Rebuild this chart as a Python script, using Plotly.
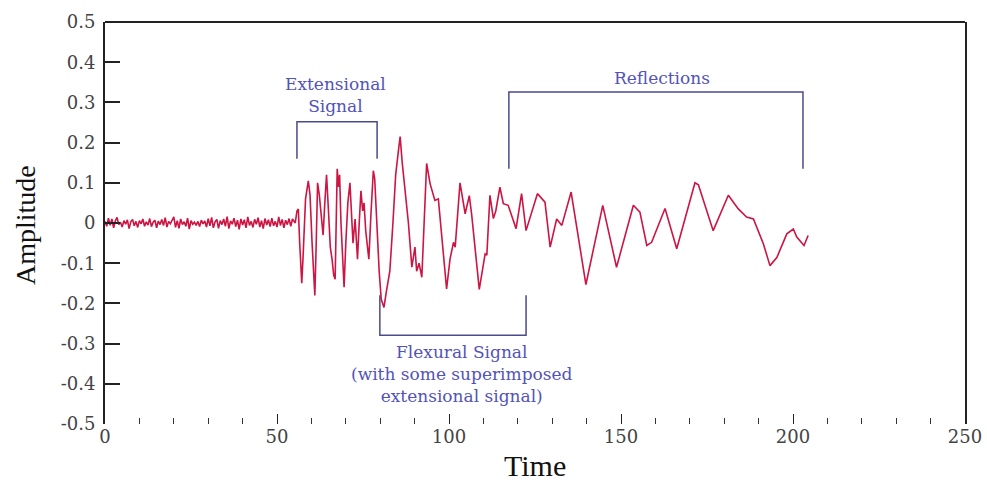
import plotly.graph_objects as go

# ---------------- data ----------------
# pre-trigger noise, sampled every 0.5 time units from t=0
noise_vals = [0.004,-0.008,0.012,-0.006,0.010,-0.012,0.005,0.014,-0.004,0.002,
              -0.010,0.006,-0.003,0.008,-0.014,0.003,0.009,-0.007,0.004,-0.011,
              0.006,-0.002,0.010,-0.008,0.003,-0.005,0.011,-0.009,0.002,0.007,
              -0.012,0.005,-0.004,0.009,-0.006,0.013,-0.010,0.004,-0.002,0.008,
              0.015,-0.011,0.006,-0.013,0.010,-0.004,0.003,-0.008,0.012,-0.015,
              0.006,-0.003,0.002,-0.006,0.004,-0.009,0.007,-0.002,0.005,-0.010,
              0.011,-0.007,0.014,-0.012,0.003,0.009,-0.013,0.006,-0.004,0.010,
              -0.008,0.016,-0.014,0.005,-0.003,0.012,-0.009,0.007,-0.016,0.010,
              -0.005,0.008,-0.012,0.015,-0.006,0.004,-0.011,0.009,-0.003,0.013,
              -0.010,0.006,-0.014,0.011,-0.005,0.008,-0.009,0.012,-0.007,0.004,
              -0.010,0.015,-0.006,0.009,-0.012,0.007,-0.004,0.011,-0.008,0.010]
noise_time = [i * 0.5 for i in range(len(noise_vals))]

signal_time = [55.3, 55.8, 56.2, 56.6, 57.2, 57.6, 58.3, 59.1, 59.6, 60.2,
               61.0, 61.4, 61.8, 62.3, 62.8, 63.4, 63.9, 64.4, 64.9, 65.5,
               66.0, 66.5, 66.9, 67.2, 67.5, 67.9, 68.2, 68.6, 69.0, 69.5,
               70.0, 70.6, 71.2, 71.6, 72.1, 72.7, 73.4, 73.9, 74.4, 74.9,
               75.3, 75.8, 76.7, 77.3, 78.0, 78.4, 79.0, 79.7, 80.3, 81.1,
               81.8, 82.8, 83.7, 84.5, 85.3, 85.8, 86.4, 87.2, 88.2, 89.2,
               90.1, 90.6, 91.3, 92.1, 93.5, 94.5, 95.9, 96.9, 98.0, 99.3,
               100.3, 101.3, 101.8, 103.2, 104.7, 105.9, 106.6, 107.7, 108.8, 110.5,
               111.0, 111.9, 112.9, 113.6, 114.8, 115.8, 117.2, 119.5, 121.1, 122.4,
               125.7, 127.9, 129.4, 131.3, 132.8, 135.5, 139.8, 144.7, 148.7, 153.6,
               155.5, 157.5, 158.9, 162.8, 166.2, 171.5, 172.5, 176.8, 181.2, 184.1,
               186.5, 188.5, 191.4, 193.3, 195.3, 198.2, 200.1, 201.1, 203.2, 204.4]
signal_vals = [0.000, 0.030, 0.035, -0.050, -0.150, -0.080, 0.060, 0.105, 0.070, -0.050,
               -0.180, -0.050, 0.100, 0.070, 0.020, -0.030, 0.050, 0.120, 0.040, -0.060,
               -0.090, -0.130, -0.140, 0.000, 0.135, 0.090, 0.120, 0.000, -0.090, -0.160,
               -0.050, 0.050, 0.100, 0.020, -0.050, 0.010, -0.090, 0.000, 0.080, 0.030,
               0.050, -0.020, -0.090, 0.020, 0.130, 0.110, 0.000, -0.120, -0.190, -0.210,
               -0.170, -0.120, 0.000, 0.120, 0.180, 0.215, 0.150, 0.090, 0.000, -0.110,
               -0.060, -0.120, -0.100, -0.135, 0.148, 0.098, 0.056, 0.060, -0.050, -0.164,
               -0.090, -0.048, -0.060, 0.100, 0.023, 0.068, 0.020, -0.070, -0.165, -0.077,
               -0.080, 0.069, 0.011, 0.030, 0.089, 0.048, 0.044, -0.014, 0.073, -0.019,
               0.073, 0.052, -0.060, 0.010, -0.006, 0.077, -0.153, 0.044, -0.110, 0.044,
               0.027, -0.056, -0.048, 0.036, -0.064, 0.100, 0.095, -0.019, 0.069, 0.035,
               0.015, 0.010, -0.052, -0.106, -0.086, -0.027, -0.015, -0.035, -0.056, -0.031]

y_tick_vals = [0.5, 0.4, 0.3, 0.2, 0.1, 0, -0.1, -0.2, -0.3, -0.4, -0.5]
y_tick_text = ["0.5", "0.4", "0.3", "0.2", "0.1", "0", "-0.1", "-0.2", "-0.3", "-0.4", "-0.5"]
x_tick_vals = [0, 50, 100, 150, 200, 250]

# bracket annotations (time, amplitude) -- label positions
ext_bracket_t = [55.8, 79.1]
ext_bracket_a = [0.160, 0.252]
refl_bracket_t = [117.4, 202.9]
refl_bracket_a = [0.135, 0.326]
flex_bracket_t = [79.9, 122.4]
flex_bracket_a = [-0.180, -0.279]

time = noise_time + signal_time
amplitude = noise_vals + signal_vals

SERIF = "Liberation Serif"
WIDE_SERIF = "DejaVu Serif"
LINE_RED = "#cc1543"
BR_COL = "#4a4a8e"
TXT_COL = "#5353b8"

fig = go.Figure()
fig.add_trace(go.Scatter(x=time, y=amplitude, mode="lines",
                         line=dict(color=LINE_RED, width=1.6),
                         hoverinfo="skip", showlegend=False))

shapes = []
def bracket(ts, ys):
    t0, t1 = ts
    leg, top = ys
    return [dict(type="path", xref="x", yref="y",
                 path=f"M {t0},{leg} L {t0},{top} L {t1},{top} L {t1},{leg}",
                 line=dict(color=BR_COL, width=1.5))]

shapes += bracket(ext_bracket_t, ext_bracket_a)
shapes += bracket(refl_bracket_t, refl_bracket_a)
shapes += bracket(flex_bracket_t, flex_bracket_a)
# top frame line
shapes.append(dict(type="line", xref="paper", yref="paper", x0=0, x1=1, y0=1, y1=1,
                   line=dict(color="#222", width=2)))

ann_font = dict(family=WIDE_SERIF, size=17, color=TXT_COL)
annotations = [
    dict(x=66.9, y=0.319, xref="x", yref="y", text="Extensional<br>Signal",
         showarrow=False, font=ann_font),
    dict(x=162, y=0.361, xref="x", yref="y", text="Reflections",
         showarrow=False, font=ann_font),
    dict(x=103.8, y=-0.375, xref="x", yref="y",
         text="Flexural Signal<br>(with some superimposed<br>extensional signal)",
         showarrow=False, font=ann_font),
    dict(x=-0.093, y=0.495, xref="paper", yref="paper", text="Amplitude", textangle=-90,
         xanchor="center", yanchor="middle",
         showarrow=False, font=dict(family=SERIF, size=28, color="#111")),
    dict(x=0.5, y=-0.102, xref="paper", yref="paper", text="Time",
         xanchor="center", yanchor="middle",
         showarrow=False, font=dict(family=SERIF, size=30, color="#111")),
]

tick_font = dict(family=WIDE_SERIF, size=18, color="#444")
fig.update_layout(
    width=987, height=483,
    margin=dict(l=105, r=22, t=22, b=59),
    paper_bgcolor="white", plot_bgcolor="white",
    shapes=shapes, annotations=annotations,
    xaxis=dict(range=[0, 250], tickvals=x_tick_vals, showgrid=False, zeroline=False,
               showline=False, ticks="inside", ticklen=10, tickwidth=1.2, tickcolor="#222",
               minor=dict(dtick=10, ticks="inside", ticklen=6, tickwidth=1, tickcolor="#333"),
               tickfont=tick_font, automargin=False),
    yaxis=dict(range=[-0.5, 0.5], tickvals=y_tick_vals, ticktext=y_tick_text,
               showgrid=False, zeroline=False, showline=True, mirror=True,
               linecolor="#222", linewidth=2, ticks="inside", ticklen=15, tickwidth=1.5,
               tickcolor="#222", tickfont=tick_font, ticklabelstandoff=4, automargin=False),
)

fig.write_html("out.html")
